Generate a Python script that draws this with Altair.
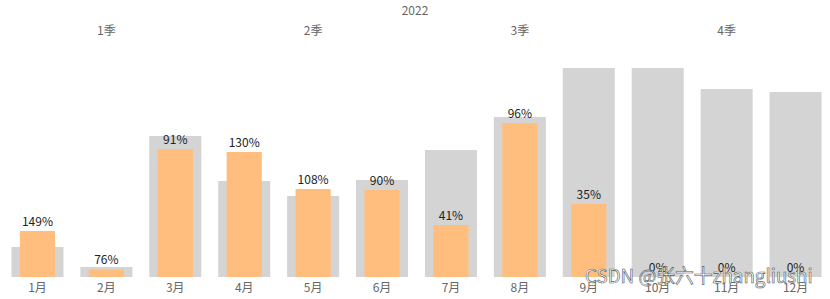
import altair as alt
import pandas as pd

months = ["1月", "2月", "3月", "4月", "5月", "6月", "7月", "8月", "9月", "10月", "11月", "12月"]
quarters = ["1季", "1季", "1季", "2季", "2季", "2季", "3季", "3季", "3季", "4季", "4季", "4季"]
target = [30, 10, 141, 96, 81, 97, 127, 160, 209, 209, 188, 185]
actual = [46, 7.6, 128, 125, 88, 87, 52, 154, 73, 0, 0, 0]
pct_labels = ["149%", "76%", "91%", "130%", "108%", "90%", "41%", "96%", "35%", "0%", "0%", "0%"]
quarter_names = ["1季", "2季", "3季", "4季"]
quarter_mid = ["2月", "5月", "8月", "11月"]
year = "2022"
watermark = "CSDN @张六十zhangliushi"

df = pd.DataFrame({"month": months, "quarter": quarters, "target": target,
                   "actual": actual, "pct": pct_labels})
qdf = pd.DataFrame({"q": quarter_names, "month": quarter_mid})

FONT = "Noto Sans CJK SC"

x = alt.X("month:N", sort=months,
          scale=alt.Scale(paddingInner=0, paddingOuter=0),
          axis=alt.Axis(title=None, labelAngle=0, ticks=False, domain=False,
                        labelPadding=5, labelFontSize=12, labelColor="#666666",
                        labelFont=FONT))
y = alt.Y("target:Q", scale=alt.Scale(domain=[0, 237], nice=False), axis=None)

base = alt.Chart(df)

grey = base.mark_bar(color="#d4d4d4", width=alt.RelativeBandSize(0.755)).encode(x=x, y=y)
orange = base.mark_bar(color="#ffbe7d", width=alt.RelativeBandSize(0.51)).encode(
    x=alt.X("month:N", sort=months), y=alt.Y("actual:Q"))
labels = base.mark_text(baseline="bottom", dy=-2, fontSize=12, color="#222222", font=FONT).encode(
    x=alt.X("month:N", sort=months), y=alt.Y("actual:Q"), text="pct:N")

qlabels = alt.Chart(qdf).mark_text(fontSize=12, color="#666666", font=FONT, baseline="middle").encode(
    x=alt.X("month:N", sort=months), y=alt.value(-9), text="q:N")

ylab = alt.Chart(pd.DataFrame({"t": [year]})).mark_text(
    fontSize=12, color="#666666", font=FONT, baseline="middle").encode(
    x=alt.value(412), y=alt.value(-29), text="t:N")

wm = alt.Chart(pd.DataFrame({"t": [watermark]})).mark_text(
    fontSize=18.8, fill="white", stroke="#555555", strokeWidth=0.6, font=FONT,
    align="left", baseline="middle").encode(
    x=alt.value(582), y=alt.value(237), text="t:N")

chart = alt.layer(grey, orange, labels, qlabels, ylab, wm).properties(
    width=827, height=237,
    padding={"left": 3, "top": 40, "right": 0, "bottom": 22},
    autosize=alt.AutoSizeParams(type="none"),
).configure_view(stroke=None)

chart.save("out.html", embed_options={"renderer": "svg", "actions": False})
